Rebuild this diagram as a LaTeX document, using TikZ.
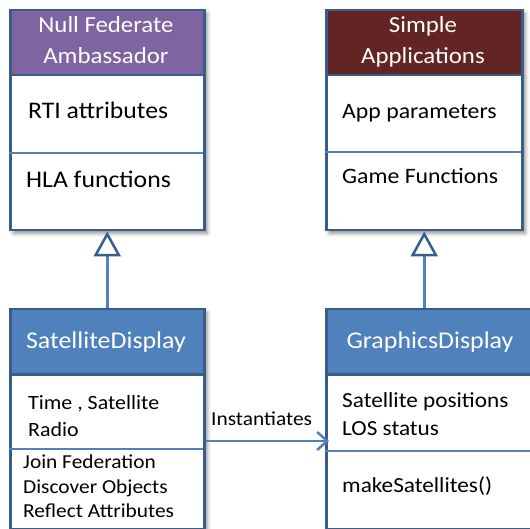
\documentclass[tikz,border=0pt]{standalone}
\usepackage{fontspec}
\setmainfont{Carlito}[FakeStretch=1.08]
\usetikzlibrary{arrows.meta,shadows.blur}
\definecolor{bordblue}{HTML}{385D8A}
\definecolor{headblue}{HTML}{4F81BD}
\definecolor{nfapurple}{HTML}{8064A2}
\definecolor{simpred}{HTML}{632523}
\begin{document}
\begin{tikzpicture}[x=1pt,y=-1pt,
  frame/.style={draw=bordblue, line width=2.5pt, fill=white, rectangle, inner sep=0pt, anchor=north west,
    blur shadow={shadow xshift=3pt, shadow yshift=-3pt, shadow blur radius=4pt, shadow opacity=45}},
  head/.style={draw=bordblue, line width=2.5pt, rectangle, inner sep=0pt, anchor=north west, minimum height=65pt},
  divider/.style={draw=headblue, line width=2pt},
  htext/.style={text=white, font=\fontsize{23}{26}\selectfont, anchor=base, inner sep=0pt},
  btext/.style={text=black, font=\fontsize{22}{26}\selectfont, anchor=base west, inner sep=0pt},
  stext/.style={text=black, font=\fontsize{19.8}{23}\selectfont, anchor=base west, inner sep=0pt},
  inherit/.style={draw=headblue, line width=2.5pt, -{Triangle[open, length=25pt, width=27pt, color=bordblue, fill=white]}},
  inst/.style={draw=headblue, line width=2.5pt, -{Straight Barb[length=10pt, width=18pt]}}
]
\useasboundingbox (0,0) rectangle (530,529);

% ---- Null Federate Ambassador
\node[frame, minimum width=194pt, minimum height=220pt] (nfa) at (9,9) {};
\node[head, fill=nfapurple, minimum width=194pt] (nfaH) at (9,9) {};
\draw[divider] (9,153) -- (203,153);
\node[htext] (nfaT1) at (106,33) {Null Federate};
\node[htext] (nfaT2) at (106,64) {Ambassador};
\node[btext, font=\fontsize{23.8}{28}\selectfont] (nfaA) at (28,119) {RTI attributes};
\node[btext, font=\fontsize{23.8}{28}\selectfont] (nfaO) at (26,188) {HLA functions};

% ---- Simple Applications
\node[frame, minimum width=196pt, minimum height=220pt] (simp) at (325,9) {};
\node[head, fill=simpred, minimum width=196pt] (simpH) at (325,9) {};
\draw[divider] (325,152) -- (521,152);
\node[htext] (simpT1) at (423,33) {Simple};
\node[htext] (simpT2) at (423,64) {Applications};
\node[btext] (simpA) at (342,119) {App parameters};
\node[btext] (simpO) at (342,184) {Game Functions};

% ---- SatelliteDisplay
\node[frame, minimum width=194pt, minimum height=220pt] (sat) at (9,308) {};
\node[head, fill=headblue, minimum width=194pt] (satH) at (9,308) {};
\draw[divider] (9,449) -- (203,449);
\node[htext, font=\fontsize{24}{28}\selectfont] (satT) at (106,348) {SatelliteDisplay};
\node[btext, font=\fontsize{20.3}{24}\selectfont] (satA1) at (28,409) {Time , Satellite};
\node[btext, font=\fontsize{20.3}{24}\selectfont] (satA2) at (28,436) {Radio};
\node[stext] (satO1) at (23,468) {Join Federation};
\node[stext] (satO2) at (23,493) {Discover Objects};
\node[stext] (satO3) at (23,517) {Reflect Attributes};

% ---- GraphicsDisplay
\node[frame, minimum width=220pt, minimum height=220pt] (gd) at (325,308) {};
\node[head, fill=headblue, minimum width=220pt] (gdH) at (325,308) {};
\draw[divider] (325,451) -- (545,451);
\node[htext, font=\fontsize{24}{28}\selectfont] (gdT) at (430,348) {GraphicsDisplay};
\node[btext, font=\fontsize{21.5}{26}\selectfont] (gdA1) at (342,407) {Satellite positions};
\node[btext, font=\fontsize{21.5}{26}\selectfont] (gdA2) at (342,435) {LOS status};
\node[btext, font=\fontsize{21.5}{26}\selectfont] (gdO) at (342,492) {makeSatellites()};

% ---- connectors
\draw[inherit] (sat.north -| nfa.south) -- (nfa.south);
\draw[inherit] (gd.north -| simp.south) -- (simp.south);
\coordinate (instY) at (0,441);
\draw[inst, shorten >=-4pt] (sat.east |- instY) -- (gd.west |- instY);
\node[stext] (instL) at (211,425) {Instantiates};
\end{tikzpicture}
\end{document}
